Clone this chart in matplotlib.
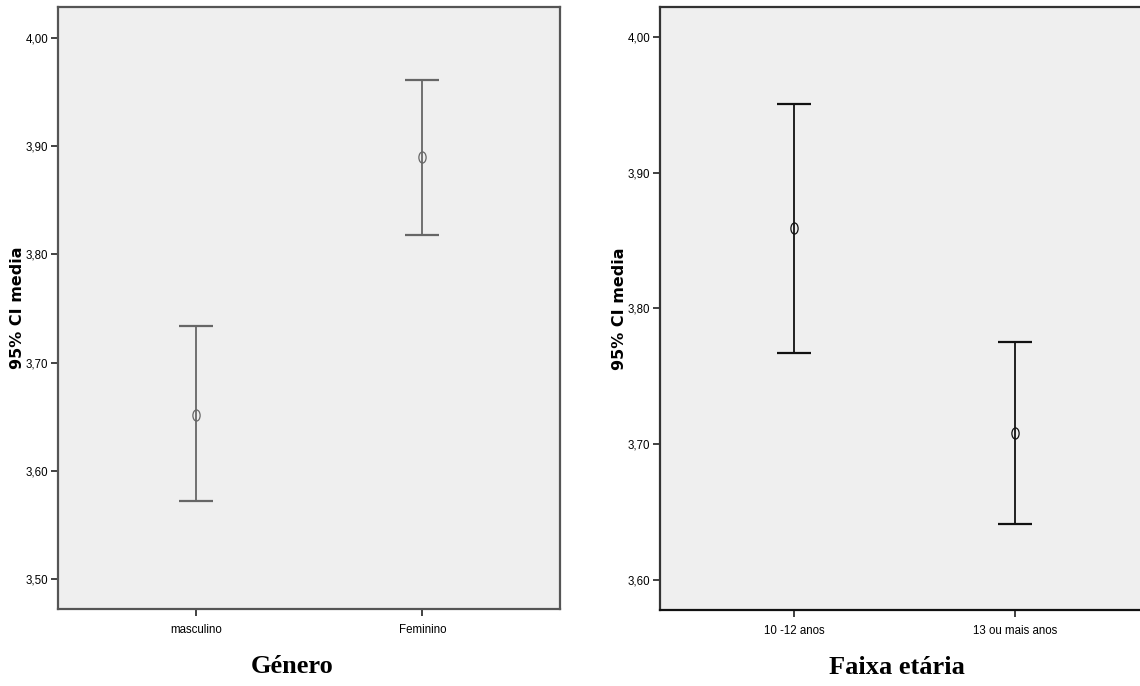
import matplotlib
matplotlib.use('Agg')
import matplotlib.pyplot as plt
from matplotlib.path import Path
from matplotlib.transforms import Affine2D

# ---- data ----
genero_cats = ['masculino', 'Feminino']
genero_mean = [3.652, 3.890]
genero_low = [3.572, 3.818]
genero_high = [3.734, 3.961]

idade_cats = ['10 -12 anos', '13 ou mais anos']
idade_mean = [3.859, 3.708]
idade_low = [3.767, 3.641]
idade_high = [3.951, 3.775]

genero_ticks = [3.50, 3.60, 3.70, 3.80, 3.90, 4.00]
idade_ticks = [3.60, 3.70, 3.80, 3.90, 4.00]

tick_font = ['Liberation Sans Narrow', 'Liberation Sans', 'DejaVu Sans']
ellipse = Path.unit_circle().transformed(Affine2D().scale(0.65, 1.0))


def draw_panel(ax, cats, means, lows, highs, ticks, ylim, line_color, frame_color,
               title, ylab_x, title_x):
    xs = list(range(len(cats)))
    lower = [m - lo for m, lo in zip(means, lows)]
    upper = [hi - m for m, hi in zip(means, highs)]
    ax.set_facecolor('#efefef')
    ax.errorbar(xs, means, yerr=[lower, upper], fmt='none', ecolor=line_color,
                elinewidth=1.3, capsize=12.2, capthick=1.6)
    ax.plot(xs, means, linestyle='none', marker=ellipse, markersize=8,
            markerfacecolor='none', markeredgecolor=line_color, markeredgewidth=0.9)
    ax.set_xlim(-0.608, len(cats) - 1 + 0.608)
    ax.set_ylim(*ylim)
    ax.set_xticks(xs)
    ax.set_xticklabels(cats, family=tick_font, fontsize=8.3)
    ax.set_yticks(ticks)
    ax.set_yticklabels([('%.2f' % t).replace('.', ',') for t in ticks],
                       family=tick_font, fontsize=8.3)
    ax.tick_params(axis='both', direction='out', length=5, width=1.3,
                   color='#333333', pad=2)
    ax.tick_params(axis='x', pad=6)
    for side in ['left', 'right', 'top', 'bottom']:
        ax.spines[side].set_color(frame_color)
        ax.spines[side].set_linewidth(1.6)
    ax.set_ylabel('95% CI media', fontsize=11.5, fontweight='bold',
                  family=['DejaVu Sans'])
    ax.yaxis.set_label_coords(ylab_x, 0.5)
    ax.yaxis.label.set_va('center')
    ax.set_xlabel(title, fontsize=19, fontweight='bold',
                  family=['Liberation Serif', 'DejaVu Serif'])
    ax.xaxis.set_label_coords(title_x, -0.095)
    ax.xaxis.label.set_va('center')


fig = plt.figure(figsize=(11.4, 6.86), dpi=100)
fig.patch.set_facecolor('white')

ax1 = fig.add_axes([0.0509, 0.1122, 0.4404, 0.8776])
draw_panel(ax1, genero_cats, genero_mean, genero_low, genero_high, genero_ticks,
           (3.4723, 4.0287), '#666666', '#555555', 'Género', -0.081, 0.466)

ax2 = fig.add_axes([0.5789, 0.1108, 0.4289, 0.8790])
draw_panel(ax2, idade_cats, idade_mean, idade_low, idade_high, idade_ticks,
           (3.5779, 4.0221), '#111111', '#333333', 'Faixa etária', -0.082, 0.485)
ax2.spines['bottom'].set_color('#111111')

fig.savefig('out.png', dpi=100)
